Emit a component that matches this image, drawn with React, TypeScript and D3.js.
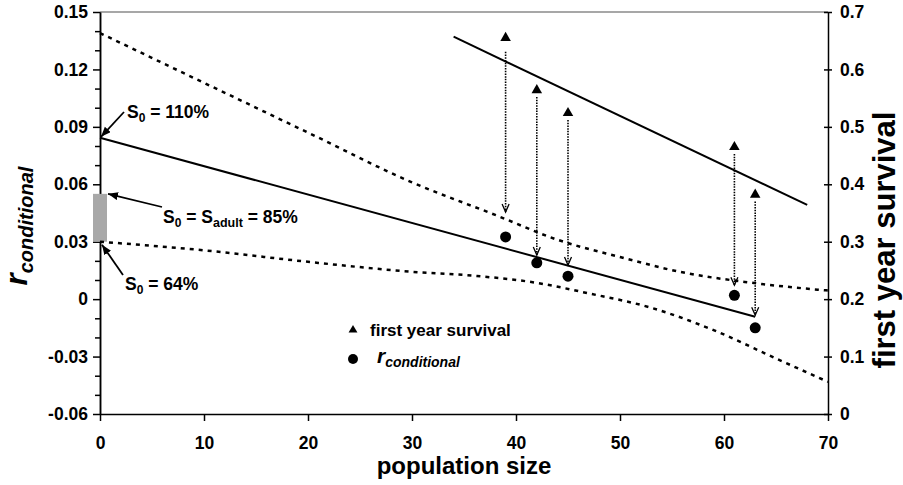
import * as d3 from 'd3';
import React, { useEffect, useRef } from 'react';

// observed populations
const popSize = [39, 42, 45, 61, 63];
const survival = [0.655, 0.564, 0.524, 0.465, 0.382];
const rConditional = [0.0325, 0.019, 0.012, 0.002, -0.015];
// where each dotted arrow ends (r axis units)
const arrowEnd = [0.0455, 0.023, 0.0178, 0.0073, -0.0084];

// regression lines
const rFitX = [0, 63];
const rFitY = [0.0843, -0.0092];
const survFitX = [34, 68];
const survFitY = [0.657, 0.364];

// confidence band (dotted curves)
const upperX = [0, 10, 20, 30, 38, 44, 50, 56, 62, 66, 70];
const upperY = [0.139, 0.113, 0.087, 0.061, 0.044, 0.031, 0.022, 0.014, 0.009, 0.0065, 0.0045];
const lowerX = [0, 10, 20, 30, 36, 42, 47, 53, 59, 65, 70];
const lowerY = [0.03, 0.0255, 0.0195, 0.0143, 0.0122, 0.0085, 0.003, -0.0045, -0.0162, -0.031, -0.0432];

// S0 = S_adult range at N = 0
const s0Range = [0.03, 0.055];

const xTicks = [0, 10, 20, 30, 40, 50, 60, 70];
const rTicks = [-0.06, -0.03, 0, 0.03, 0.06, 0.09, 0.12, 0.15];
const rTickLabels = ['-0.06', '-0.03', '0', '0.03', '0.06', '0.09', '0.12', '0.15'];
const rMinorTicks = [-0.05, -0.04, -0.02, -0.01, 0.01, 0.02, 0.04, 0.05, 0.07, 0.08, 0.1, 0.11, 0.13, 0.14];
const survTicks = [0, 0.1, 0.2, 0.3, 0.4, 0.5, 0.6, 0.7];
const survTickLabels = ['0', '0.1', '0.2', '0.3', '0.4', '0.5', '0.6', '0.7'];

const font = "'Liberation Sans', Arial, Helvetica, sans-serif";

export default function App() {
  const ref = useRef<SVGSVGElement>(null);

  useEffect(() => {
    const svg = d3.select(ref.current);
    svg.selectAll('*').remove();

    const x = d3.scaleLinear().domain([0, 70]).range([100, 828]);
    const yR = d3.scaleLinear().domain([-0.06, 0.15]).range([414, 12]);
    const yS = d3.scaleLinear().domain([0, 0.7]).range([414, 12]);

    const defs = svg.append('defs');
    defs
      .append('marker')
      .attr('id', 'head')
      .attr('markerUnits', 'userSpaceOnUse')
      .attr('markerWidth', 11)
      .attr('markerHeight', 9)
      .attr('refX', 10)
      .attr('refY', 4)
      .attr('orient', 'auto')
      .append('path')
      .attr('d', 'M0,0 L10,4 L0,8 Z')
      .attr('fill', '#000');

    // top frame line
    svg
      .append('line')
      .attr('x1', x(0))
      .attr('x2', x(70))
      .attr('y1', yR(0.15))
      .attr('y2', yR(0.15))
      .attr('stroke', '#8a8a8a')
      .attr('stroke-width', 1.5);

    const styleAxis = (g) => {
      g.attr('font-family', font).attr('font-size', 17.5).attr('font-weight', 'bold');
      g.selectAll('path.domain').attr('stroke', '#000').attr('stroke-width', 1.5);
      g.selectAll('.tick line').attr('stroke', '#000').attr('stroke-width', 1.5);
      g.selectAll('.tick text').attr('fill', '#000');
    };

    // left axis: minor ticks then major
    const leftMinor = svg.append('g').attr('transform', `translate(${x(0)},0)`);
    leftMinor.call(
      d3.axisLeft(yR).tickValues(rMinorTicks).tickSize(5).tickSizeOuter(0).tickFormat(() => '')
    );
    styleAxis(leftMinor);
    const left = svg.append('g').attr('transform', `translate(${x(0)},0)`);
    left.call(
      d3
        .axisLeft(yR)
        .tickValues(rTicks)
        .tickSize(7)
        .tickSizeOuter(0)
        .tickPadding(5)
        .tickFormat((d, i) => rTickLabels[i])
    );
    styleAxis(left);

    // right axis
    const right = svg.append('g').attr('transform', `translate(${x(70)},0)`);
    right.call(
      d3
        .axisRight(yS)
        .tickValues(survTicks)
        .tickSize(4)
        .tickSizeOuter(0)
        .tickPadding(8)
        .tickFormat((d, i) => survTickLabels[i])
    );
    styleAxis(right);
    right.selectAll('.tick line').attr('x1', -4);

    // bottom axis
    const bottom = svg.append('g').attr('transform', `translate(0,${yR(-0.06)})`);
    bottom.call(d3.axisBottom(x).tickValues(xTicks).tickSize(7).tickSizeOuter(0).tickPadding(16));
    styleAxis(bottom);

    // S0 range bar
    svg
      .append('rect')
      .attr('x', x(0) - 7)
      .attr('width', 14)
      .attr('y', yR(s0Range[1]))
      .attr('height', yR(s0Range[0]) - yR(s0Range[1]))
      .attr('fill', '#a8a8a8');

    // confidence curves
    const band = d3.line<number>().curve(d3.curveMonotoneX);
    svg
      .append('path')
      .attr('d', band.x((d, i) => x(upperX[i])).y((d) => yR(d))(upperY))
      .attr('fill', 'none')
      .attr('stroke', '#000')
      .attr('stroke-width', 2.5)
      .attr('stroke-dasharray', '4,5');
    svg
      .append('path')
      .attr('d', band.x((d, i) => x(lowerX[i])).y((d) => yR(d))(lowerY))
      .attr('fill', 'none')
      .attr('stroke', '#000')
      .attr('stroke-width', 2.5)
      .attr('stroke-dasharray', '4,5');

    // regression lines
    svg
      .append('path')
      .attr('d', d3.line<number>().x((d, i) => x(rFitX[i])).y((d) => yR(d))(rFitY))
      .attr('fill', 'none')
      .attr('stroke', '#000')
      .attr('stroke-width', 2);
    svg
      .append('path')
      .attr('d', d3.line<number>().x((d, i) => x(survFitX[i])).y((d) => yS(d))(survFitY))
      .attr('fill', 'none')
      .attr('stroke', '#000')
      .attr('stroke-width', 2);

    // dotted arrows from survival to r
    const arrows = svg.append('g');
    popSize.forEach((p, i) => {
      const ax = x(p);
      const tip = yR(arrowEnd[i]);
      arrows
        .append('line')
        .attr('x1', ax)
        .attr('x2', ax)
        .attr('y1', yS(survival[i]) + (i === 0 ? 14 : 7))
        .attr('y2', tip)
        .attr('stroke', '#000')
        .attr('stroke-width', 1.6)
        .attr('stroke-dasharray', '1.5,1.2');
      arrows
        .append('path')
        .attr('d', `M${ax - 3.5},${tip - 8} L${ax},${tip} L${ax + 3.5},${tip - 8}`)
        .attr('fill', 'none')
        .attr('stroke', '#000')
        .attr('stroke-width', 1.3);
    });

    // points
    const tri = d3.symbol().type(d3.symbolTriangle).size(48);
    svg
      .append('g')
      .selectAll('path')
      .data(popSize)
      .join('path')
      .attr('d', tri)
      .attr('transform', (d, i) => `translate(${x(d)},${yS(survival[i])})`)
      .attr('fill', '#000');
    svg
      .append('g')
      .selectAll('circle')
      .data(popSize)
      .join('circle')
      .attr('cx', (d) => x(d))
      .attr('cy', (d, i) => yR(rConditional[i]))
      .attr('r', 5.5)
      .attr('fill', '#000');

    // annotations
    const note = svg
      .append('g')
      .attr('font-family', font)
      .attr('font-weight', 'bold')
      .attr('font-size', 17.5)
      .attr('fill', '#000');
    const arrow = (x1, y1, x2, y2) =>
      note
        .append('line')
        .attr('x1', x1)
        .attr('y1', y1)
        .attr('x2', x2)
        .attr('y2', y2)
        .attr('stroke', '#000')
        .attr('stroke-width', 1.8)
        .attr('marker-end', 'url(#head)');

    arrow(124, 112, x(0) + 1, yR(rFitY[0]) - 1);
    const t1 = note.append('text').attr('x', 127).attr('y', 118);
    t1.append('tspan').text('S');
    t1.append('tspan').attr('font-size', 12).attr('dy', 4).text('0');
    t1.append('tspan').attr('dy', -4).text(' = 110%');

    arrow(162, 207, x(0) + 8, yR(s0Range[1]));
    const t2 = note.append('text').attr('x', 163).attr('y', 223);
    t2.append('tspan').text('S');
    t2.append('tspan').attr('font-size', 12).attr('dy', 4).text('0');
    t2.append('tspan').attr('dy', -4).text(' = S');
    t2.append('tspan').attr('font-size', 12.5).attr('dy', 4).text('adult');
    t2.append('tspan').attr('dy', -4).text(' = 85%');

    arrow(123, 275, x(0) + 2, yR(s0Range[0]) + 3);
    const t3 = note.append('text').attr('x', 125).attr('y', 290);
    t3.append('tspan').text('S');
    t3.append('tspan').attr('font-size', 12).attr('dy', 4).text('0');
    t3.append('tspan').attr('dy', -4).text(' = 64%');

    // legend
    const legend = svg
      .append('g')
      .attr('font-family', font)
      .attr('font-weight', 'bold')
      .attr('fill', '#000');
    legend
      .append('path')
      .attr('d', d3.symbol().type(d3.symbolTriangle).size(34)())
      .attr('transform', 'translate(353,330)');
    legend
      .append('text')
      .attr('x', 370)
      .attr('y', 336)
      .attr('font-size', 17)
      .text('first year survival');
    legend.append('circle').attr('cx', 353).attr('cy', 359).attr('r', 5);
    const lr = legend.append('text').attr('x', 377).attr('y', 363).attr('font-style', 'italic');
    lr.append('tspan').attr('font-size', 21).text('r');
    lr.append('tspan').attr('font-size', 14).attr('dy', 4).text('conditional');

    // axis titles
    svg
      .append('text')
      .attr('x', 464)
      .attr('y', 474)
      .attr('text-anchor', 'middle')
      .attr('font-family', font)
      .attr('font-weight', 'bold')
      .attr('font-size', 24)
      .text('population size');

    const lt = svg
      .append('text')
      .attr('transform', 'translate(27,226) rotate(-90)')
      .attr('text-anchor', 'middle')
      .attr('font-family', font)
      .attr('font-weight', 'bold')
      .attr('font-style', 'italic');
    lt.append('tspan').attr('font-size', 31).text('r');
    lt.append('tspan').attr('font-size', 20).attr('dy', 6).text('conditional');

    svg
      .append('text')
      .attr('transform', 'translate(895,240) rotate(-90)')
      .attr('text-anchor', 'middle')
      .attr('font-family', font)
      .attr('font-weight', 'bold')
      .attr('font-size', 31)
      .text('first year survival');
  }, []);

  return (
    <svg
      ref={ref}
      width={903}
      height={485}
      style={{ position: 'absolute', left: 0, top: 0, background: '#fff' }}
    />
  );
}
